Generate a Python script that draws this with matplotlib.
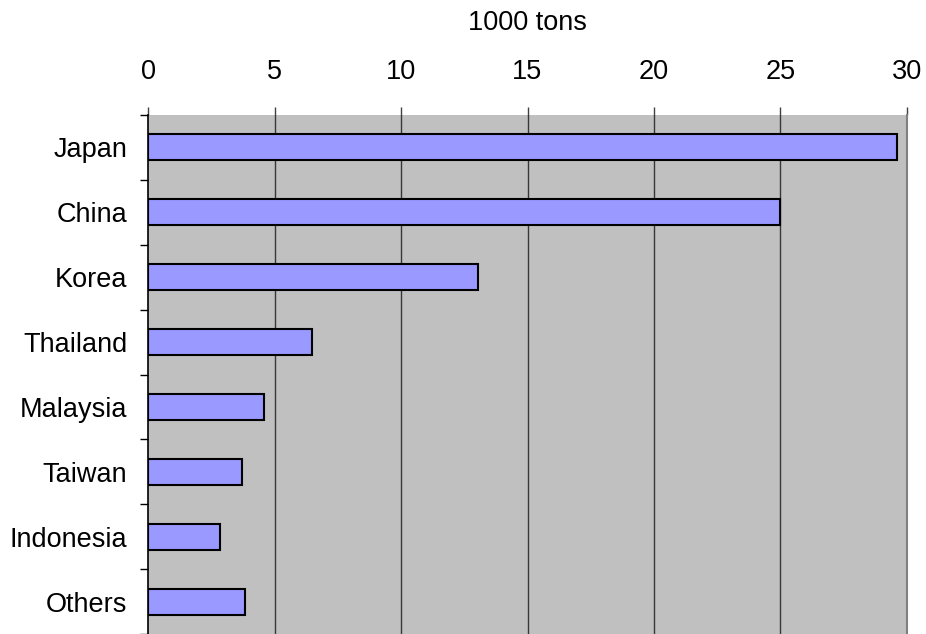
import numpy as np
import matplotlib.pyplot as plt

# data (1000 tons)
countries = ['Japan', 'China', 'Korea', 'Thailand', 'Malaysia', 'Taiwan', 'Indonesia', 'Others']
values = [29.6, 25.0, 13.05, 6.5, 4.6, 3.7, 2.85, 3.85]
xticks = [0, 5, 10, 15, 20, 25, 30]

plt.rcParams['font.family'] = ['Liberation Sans', 'DejaVu Sans']
fs = 19.5

fig = plt.figure(figsize=(9.26, 6.34), dpi=100)
ax = fig.add_axes([148/926, 0.0, (907-148)/926, (634-115)/634])
ax.set_facecolor('#c0c0c0')

y = np.arange(len(countries))
ax.barh(y, values, height=0.4, color='#9999ff', edgecolor='black', linewidth=1.5, zorder=3)

ax.set_xlim(0, 30)
ax.set_ylim(len(countries) - 0.5, -0.5)

# gridlines
for xv in xticks[1:-1]:
    ax.axvline(xv, color='#383838', linewidth=1.0, zorder=1)

ax.xaxis.tick_top()
ax.xaxis.set_label_position('top')
ax.set_xticks(xticks)
ax.set_xticklabels([str(v) for v in xticks], fontsize=fs)
ax.tick_params(axis='x', direction='out', length=5.8, width=1, color='#404040', pad=15.5)
ax.set_xlabel('1000 tons', fontsize=fs, labelpad=21.5)

# y ticks at category boundaries, labels at centres
ax.set_yticks(np.arange(len(countries) + 1) - 0.5)
ax.set_yticklabels([])
ax.set_yticks(y, minor=True)
ax.set_yticklabels(countries, minor=True, fontsize=fs)
ax.tick_params(axis='y', which='major', direction='out', length=5.8, width=1)
ax.tick_params(axis='y', which='minor', length=0, pad=15)

ax.spines['left'].set_color('black')
ax.spines['left'].set_linewidth(1.2)
ax.spines['top'].set_visible(False)
ax.spines['bottom'].set_visible(False)
ax.spines['right'].set_color('#808080')
ax.spines['right'].set_linewidth(1.5)

fig.savefig('out.png', dpi=100)
